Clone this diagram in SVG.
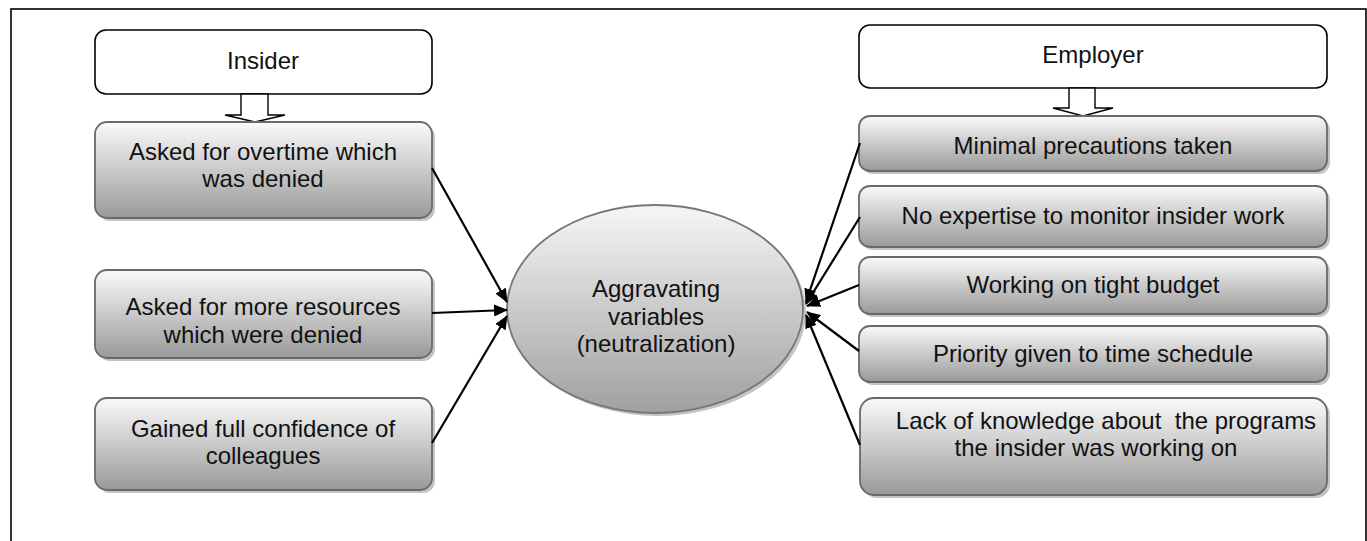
<svg xmlns="http://www.w3.org/2000/svg" width="1367" height="541" viewBox="0 0 1367 541">
<style>
  .t { font-family: "Liberation Sans", Arial, sans-serif; font-size: 24px; fill: #111; text-anchor: middle; }
  .hdr { fill: #fff; stroke: #000; stroke-width: 1.6; }
  .box { fill: url(#g); stroke: #6a6a6a; stroke-width: 1.8; }
  .sh { fill: #c4c4c4; }
  .blk { fill: #fff; stroke: #000; stroke-width: 1.4; }
  .c { stroke: #000; stroke-width: 2.2; fill: none; marker-end: url(#ah); }
</style>
<defs>
  <linearGradient id="g" x1="0" y1="0" x2="0" y2="1">
    <stop offset="0" stop-color="#fafafa"/>
    <stop offset="1" stop-color="#999999"/>
  </linearGradient>
  <linearGradient id="ge" x1="0" y1="0" x2="0" y2="1">
    <stop offset="0" stop-color="#f6f6f6"/>
    <stop offset="1" stop-color="#a0a0a0"/>
  </linearGradient>
  <marker id="ah" markerWidth="14" markerHeight="12" refX="13" refY="6" orient="auto" markerUnits="userSpaceOnUse">
    <path d="M0,0 L14,6 L0,12 z" fill="#000"/>
  </marker>
</defs>
<rect x="11" y="9" width="1355" height="540" fill="none" stroke="#000" stroke-width="1.6"/>

<g id="insider">
  <rect class="hdr" x="95" y="30" width="337" height="64" rx="11"/>
  <text class="t" x="263" y="69">Insider</text>
</g>
<g id="insider-arrow">
  <path class="blk" d="M241,94 L268,94 L268,115 L285,115 L255,122 L225,115 L241,115 z"/>
</g>
<g id="i1">
  <rect class="sh" x="98" y="125" width="337" height="96" rx="12"/>
  <rect class="box" x="95" y="122" width="337" height="96" rx="12"/>
  <text class="t" x="263" y="160">Asked for overtime which</text>
  <text class="t" x="263" y="187">was denied</text>
</g>
<g id="i2">
  <rect class="sh" x="98" y="273" width="337" height="88" rx="12"/>
  <rect class="box" x="95" y="270" width="337" height="88" rx="12"/>
  <text class="t" x="263" y="315">Asked for more resources</text>
  <text class="t" x="263" y="343">which were denied</text>
</g>
<g id="i3">
  <rect class="sh" x="98" y="401" width="337" height="92" rx="12"/>
  <rect class="box" x="95" y="398" width="337" height="92" rx="12"/>
  <text class="t" x="263" y="437">Gained full confidence of</text>
  <text class="t" x="263" y="464">colleagues</text>
</g>

<g id="center">
  <ellipse cx="658" cy="312" rx="148" ry="104" fill="#c4c4c4"/>
  <ellipse cx="655" cy="309" rx="148" ry="104" fill="url(#ge)" stroke="#777" stroke-width="1.8"/>
  <text class="t" x="656" y="297">Aggravating</text>
  <text class="t" x="656" y="325">variables</text>
  <text class="t" x="656" y="352">(neutralization)</text>
</g>

<g id="employer">
  <rect class="hdr" x="859" y="25" width="468" height="63" rx="11"/>
  <text class="t" x="1093" y="63">Employer</text>
</g>
<g id="employer-arrow">
  <path class="blk" d="M1069,88 L1095,88 L1095,108 L1113,108 L1083,116 L1053,108 L1069,108 z"/>
</g>
<g id="e1">
  <rect class="sh" x="862" y="119" width="468" height="55" rx="11"/>
  <rect class="box" x="859" y="116" width="468" height="55" rx="11"/>
  <text class="t" x="1093" y="154">Minimal precautions taken</text>
</g>
<g id="e2">
  <rect class="sh" x="862" y="189" width="468" height="61" rx="11"/>
  <rect class="box" x="859" y="186" width="468" height="61" rx="11"/>
  <text class="t" x="1093" y="224">No expertise to monitor insider work</text>
</g>
<g id="e3">
  <rect class="sh" x="862" y="260" width="468" height="57" rx="11"/>
  <rect class="box" x="859" y="257" width="468" height="57" rx="11"/>
  <text class="t" x="1093" y="293">Working on tight budget</text>
</g>
<g id="e4">
  <rect class="sh" x="862" y="329" width="468" height="56" rx="11"/>
  <rect class="box" x="859" y="326" width="468" height="56" rx="11"/>
  <text class="t" x="1093" y="362">Priority given to time schedule</text>
</g>
<g id="e5">
  <rect class="sh" x="863" y="401" width="467" height="97" rx="14"/>
  <rect class="box" x="860" y="398" width="467" height="97" rx="14"/>
  <text class="t" x="1106" y="429" style="white-space:pre">Lack of knowledge about  the programs</text>
  <text class="t" x="1096" y="456">the insider was working on</text>
</g>

<g id="connectors">
  <line class="c" x1="432" y1="168" x2="507" y2="302"/>
  <line class="c" x1="432" y1="313" x2="507" y2="310"/>
  <line class="c" x1="432" y1="443" x2="507" y2="316"/>
  <line class="c" x1="860" y1="143" x2="806" y2="302"/>
  <line class="c" x1="860" y1="217" x2="806" y2="304"/>
  <line class="c" x1="859" y1="285" x2="807" y2="306"/>
  <line class="c" x1="859" y1="351" x2="807" y2="312"/>
  <line class="c" x1="860" y1="445" x2="806" y2="315"/>
</g>
</svg>
